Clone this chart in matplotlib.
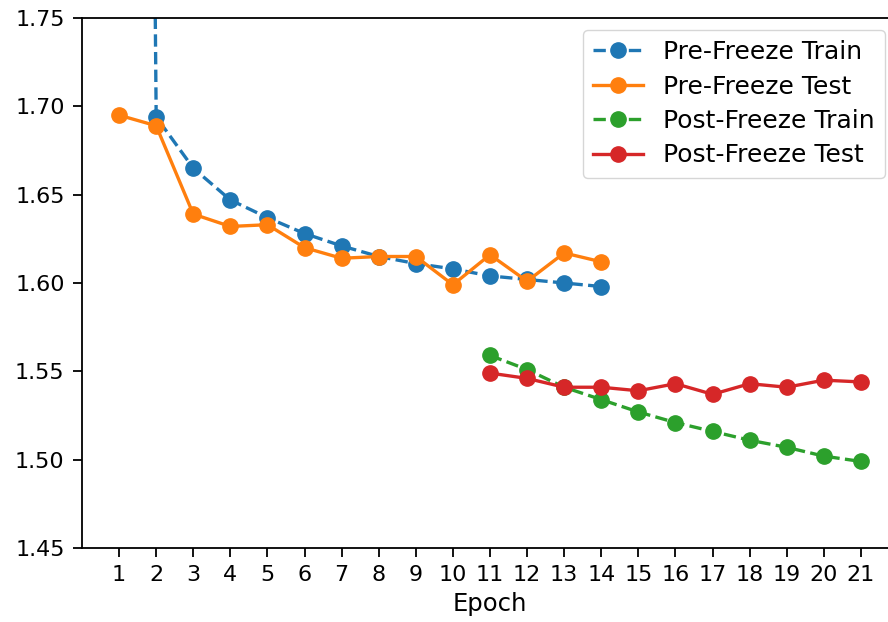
import numpy as np
import matplotlib
matplotlib.use("Agg")
import matplotlib.pyplot as plt

epochs = list(range(1, 22))
epoch_labels = [str(e) for e in epochs]

pre_epochs = list(range(1, 15))
pre_train = [4.0, 1.694, 1.665, 1.647, 1.637, 1.628, 1.621, 1.615,
             1.611, 1.608, 1.604, 1.602, 1.600, 1.598]
pre_test = [1.695, 1.689, 1.639, 1.632, 1.633, 1.620, 1.614, 1.615,
            1.615, 1.599, 1.616, 1.601, 1.617, 1.612]

post_epochs = list(range(11, 22))
post_train = [1.559, 1.551, 1.541, 1.534, 1.527, 1.521, 1.516, 1.511,
              1.507, 1.502, 1.499]
post_test = [1.549, 1.546, 1.541, 1.541, 1.539, 1.543, 1.537, 1.543,
             1.541, 1.545, 1.544]

plt.rcParams['font.size'] = 16

fig = plt.figure(figsize=(8.88, 6.22), dpi=100)
# axes spans past the right edge, like the cropped original
ax = fig.add_axes([82 / 888, 1 - 548 / 622, 816 / 888, 530 / 622])

kw = dict(marker='o', markersize=11, linewidth=2.4)
ax.plot(pre_epochs, pre_train, '--', color='#1f77b4', label='Pre-Freeze Train', **kw)
ax.plot(pre_epochs, pre_test, '-', color='#ff7f0e', label='Pre-Freeze Test', **kw)
ax.plot(post_epochs, post_train, '--', color='#2ca02c', label='Post-Freeze Train', **kw)
ax.plot(post_epochs, post_test, '-', color='#d62728', label='Post-Freeze Test', **kw)

ax.set_xlim(0, 22)
ax.set_ylim(1.45, 1.75)
ax.set_xticks(epochs)
ax.set_xticklabels(epoch_labels)
ax.set_yticks([1.45, 1.50, 1.55, 1.60, 1.65, 1.70, 1.75])
ax.tick_params(length=6.5, width=1.3, pad=6)
for s in ax.spines.values():
    s.set_linewidth(1.3)
ax.set_xlabel('Epoch', fontsize=17.5, labelpad=5)
ax.legend(loc='upper right', bbox_to_anchor=(885 / 888, 1 - 30 / 622),
          bbox_transform=fig.transFigure, borderaxespad=0, fontsize=18,
          labelspacing=0.42)

fig.savefig('out.png', dpi=100)
